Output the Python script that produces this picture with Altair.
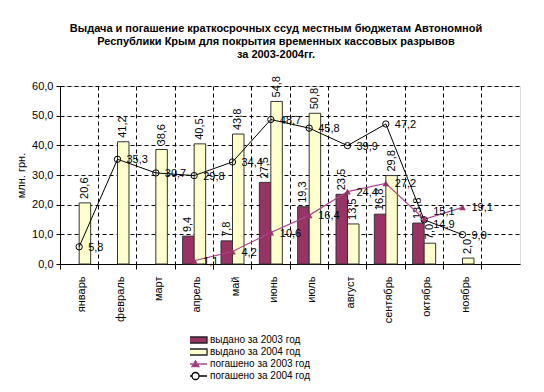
import altair as alt
import pandas as pd

FONT = "Liberation Sans"

months = ["январь", "февраль", "март", "апрель", "май", "июнь", "июль",
          "август", "сентябрь", "октябрь", "ноябрь"]
x_domain = months + ["декабрь"]

S_I03 = "выдано за 2003 год"
S_I04 = "выдано за 2004 год"
S_R03 = "погашено за 2003 год"
S_R04 = "погашено за 2004 год"
series_names = [S_I03, S_I04, S_R03, S_R04]

issued_2003 = [None, None, None, 9.4, 7.8, 27.5, 19.3, 23.5, 16.8, 13.8, None]
issued_2004 = [20.6, 41.2, 38.6, 40.5, 43.8, 54.8, 50.8, 13.5, 29.8, 7.0, 2.0]
repaid_2003 = [None, None, None, 1.1, 4.2, 10.6, 16.4, 24.4, 27.2, 15.1, 19.1]
repaid_2004 = [5.8, 35.3, 30.7, 29.8, 34.4, 48.7, 45.8, 39.9, 47.2, 14.9, 9.9]

rows = []
for name, vals in zip(series_names, [issued_2003, issued_2004, repaid_2003, repaid_2004]):
    for m, v in zip(months, vals):
        if v is not None:
            rows.append({"month": m, "series": name, "value": v,
                         "label": f"{v:.1f}".replace(".", ",")})
df = pd.DataFrame(rows)

MAROON = "#993366"
YELLOW = "#FFFFCC"
PINK = "#A8488A"
GRID_DASH = [4, 3]

X = alt.X("month:N", sort=None, title=None,
          scale=alt.Scale(domain=x_domain, paddingInner=0, paddingOuter=0),
          axis=alt.Axis(labelAngle=-90, labelAlign="right", labelBaseline="middle",
                        labelPadding=7, labelOffset=3, bandPosition=0,
                        tickSize=5, tickColor="black", domainColor="black",
                        grid=True, gridColor="black", gridDash=GRID_DASH, gridOpacity=1,
                        labelExpr="datum.label == 'декабрь' ? '' : datum.label",
                        labelFontSize=11, labelFont=FONT, labelColor="black"))
Y = alt.Y("value:Q",
          scale=alt.Scale(domain=[0, 60], nice=False),
          axis=alt.Axis(values=[0, 10, 20, 30, 40, 50, 60], title="млн. грн.",
                        labelExpr="replace(format(datum.value, '.1f'), '.', ',')",
                        tickSize=4, tickColor="black", domainColor="black",
                        labelPadding=3, titlePadding=5,
                        grid=True, gridColor="black", gridDash=GRID_DASH, gridOpacity=1,
                        labelFontSize=11, labelFont=FONT, labelColor="black",
                        titleFontSize=11, titleFont=FONT, titleFontWeight="normal",
                        titleColor="black"))
XO = alt.XOffset("series:N",
                 scale=alt.Scale(domain=[S_I03, S_I04], paddingInner=0, paddingOuter=0.667))

base = alt.Chart(df)

bar03 = base.transform_filter(alt.datum.series == S_I03).mark_bar(
    fill=MAROON, stroke="#333333", strokeWidth=1).encode(x=X, y=Y, xOffset=XO)
bar04 = base.transform_filter(alt.datum.series == S_I04).mark_bar(
    fill=YELLOW, stroke="#333333", strokeWidth=1).encode(x=X, y=Y, xOffset=XO)

bar_labels = base.transform_filter(
    (alt.datum.series == S_I03) | (alt.datum.series == S_I04)
).mark_text(angle=270, align="left", baseline="middle", dx=4,
            font=FONT, fontSize=11, color="black").encode(
    x=X, y=Y, xOffset=XO, text="label:N")

line03 = base.transform_filter(alt.datum.series == S_R03).mark_line(
    color=PINK, strokeWidth=1.2).encode(x=X, y=Y)
pts03 = base.transform_filter(alt.datum.series == S_R03).mark_point(
    shape="triangle-up", filled=True, color=MAROON, size=45, opacity=1).encode(x=X, y=Y)
line04 = base.transform_filter(alt.datum.series == S_R04).mark_line(
    color="black", strokeWidth=1).encode(x=X, y=Y)
pts04 = base.transform_filter(alt.datum.series == S_R04).mark_point(
    shape="circle", filled=False, color="black", size=40, strokeWidth=1, opacity=1).encode(x=X, y=Y)


def line_label_layer(cond, dy):
    return base.transform_filter(cond).mark_text(
        align="left", baseline="middle", dx=9, dy=dy,
        font=FONT, fontSize=11, color="black").encode(x=X, y=Y, text="label:N")


is_line = (alt.datum.series == S_R03) | (alt.datum.series == S_R04)
labels_main = line_label_layer(is_line & (alt.datum.month != "октябрь"), 1)
labels_oct03 = line_label_layer((alt.datum.series == S_R03) & (alt.datum.month == "октябрь"), -7)
labels_oct04 = line_label_layer((alt.datum.series == S_R04) & (alt.datum.month == "октябрь"), 5)

# legend
bar_path = "M-2.56,-0.67H2.56V0.67H-2.56Z"
tri_path = "M-2.56,0H2.56M-0.78,0.6L0,-0.72L0.78,0.6Z"
circ_path = ("M-2.56,0H-0.78M0.78,0H2.56M-0.78,0A0.78,0.78 0 1,0 0.78,0A0.78,0.78 0 1,0 -0.78,0Z")
LEG = alt.Legend(title=None, orient="none", legendX=130, legendY=248,
                 symbolSize=81, labelOffset=9, labelFontSize=10, labelFont=FONT,
                 labelColor="black", rowPadding=0, clipHeight=12,
                 symbolStrokeWidth=1.3, padding=0)
legend_df = pd.DataFrame({"series": series_names})
legend_layer = alt.Chart(legend_df).transform_filter("false").mark_point(
    filled=True, size=81, opacity=1, strokeWidth=1.3).encode(
    x=X, y=Y,
    shape=alt.Shape("series:N", scale=alt.Scale(domain=series_names,
                    range=[bar_path, bar_path, tri_path, circ_path]), legend=LEG),
    fill=alt.Fill("series:N", scale=alt.Scale(domain=series_names,
                  range=[MAROON, YELLOW, MAROON, "white"]), legend=LEG),
    stroke=alt.Stroke("series:N", scale=alt.Scale(domain=series_names,
                      range=["#222222", "#222222", PINK, "black"]), legend=LEG),
)

chart = alt.layer(
    bar03, bar04, bar_labels, line03, line04, pts03, pts04,
    labels_main, labels_oct03, labels_oct04, legend_layer
).properties(
    width=460, height=178,
    padding={"left": 52, "top": 78, "right": 16, "bottom": 120},
    autosize=alt.AutoSizeParams(type="none"),
    title=alt.TitleParams(
        text=["Выдача и погашение краткосрочных ссуд местным бюджетам Автономной",
              "Республики Крым для покрытия временных кассовых разрывов",
              "за 2003-2004гг."],
        font=FONT, fontSize=11, fontWeight="bold", color="black",
        anchor="middle", dx=-14, dy=7, offset=23, lineHeight=13),
).configure_view(fill="#C0C0C0", stroke=None).configure(background="white")

chart.save("out.html", embed_options={"renderer": "svg", "actions": False})
